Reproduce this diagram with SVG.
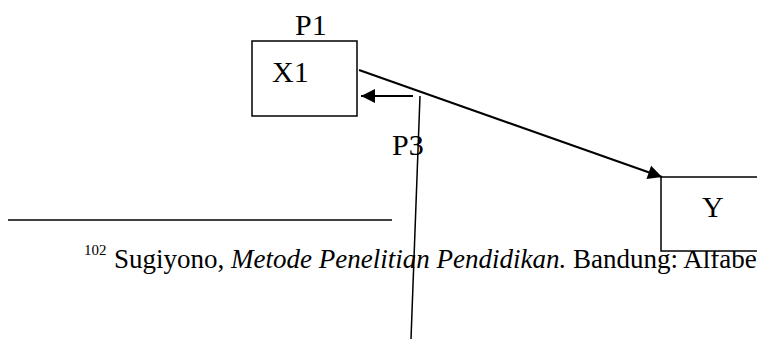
<svg xmlns="http://www.w3.org/2000/svg" width="757" height="339" viewBox="0 0 757 339">
<style>
.t{font-family:"Liberation Serif","Times New Roman",serif;fill:#000}
.box{fill:#fff;stroke:#000;stroke-width:1.5}
.ln{fill:none;stroke:#000}
</style>
<defs>
<marker id="ah" markerUnits="userSpaceOnUse" markerWidth="16" markerHeight="16" viewBox="0 0 16 16" refX="15" refY="8" orient="auto">
<path d="M1,1 L15,8 L1,15 Z" fill="#000"/>
</marker>
</defs>
<rect width="757" height="339" fill="#fff"/>
<g id="footnote">
<line x1="8" y1="220" x2="392" y2="220" stroke="#000" stroke-width="1.5"/>
<text class="t" x="84" y="255" font-size="15">102</text>
<text class="t" x="114" y="268" font-size="27">Sugiyono, <tspan font-style="italic">Metode Penelitian Pendidikan.</tspan> Bandung: Alfabet</text>
</g>
<g id="nodeX1">
<rect class="box" x="252" y="41" width="105" height="75"/>
<text class="t" x="272" y="82" font-size="30">X1</text>
</g>
<g id="labelP1">
<text class="t" x="295" y="35" font-size="30">P1</text>
</g>
<g id="nodeY">
<rect class="box" x="661" y="177" width="110" height="74"/>
<text class="t" x="702" y="217" font-size="30">Y</text>
</g>
<g id="connectors">
<line class="ln" x1="359" y1="70" x2="662" y2="177" stroke-width="2" marker-end="url(#ah)"/>
<line class="ln" x1="413" y1="96" x2="361" y2="96" stroke-width="2" marker-end="url(#ah)"/>
<line class="ln" x1="420" y1="96" x2="411" y2="339" stroke-width="1.5"/>
</g>
<g id="labelP3">
<text class="t" x="392" y="155" font-size="30">P3</text>
</g>
</svg>
